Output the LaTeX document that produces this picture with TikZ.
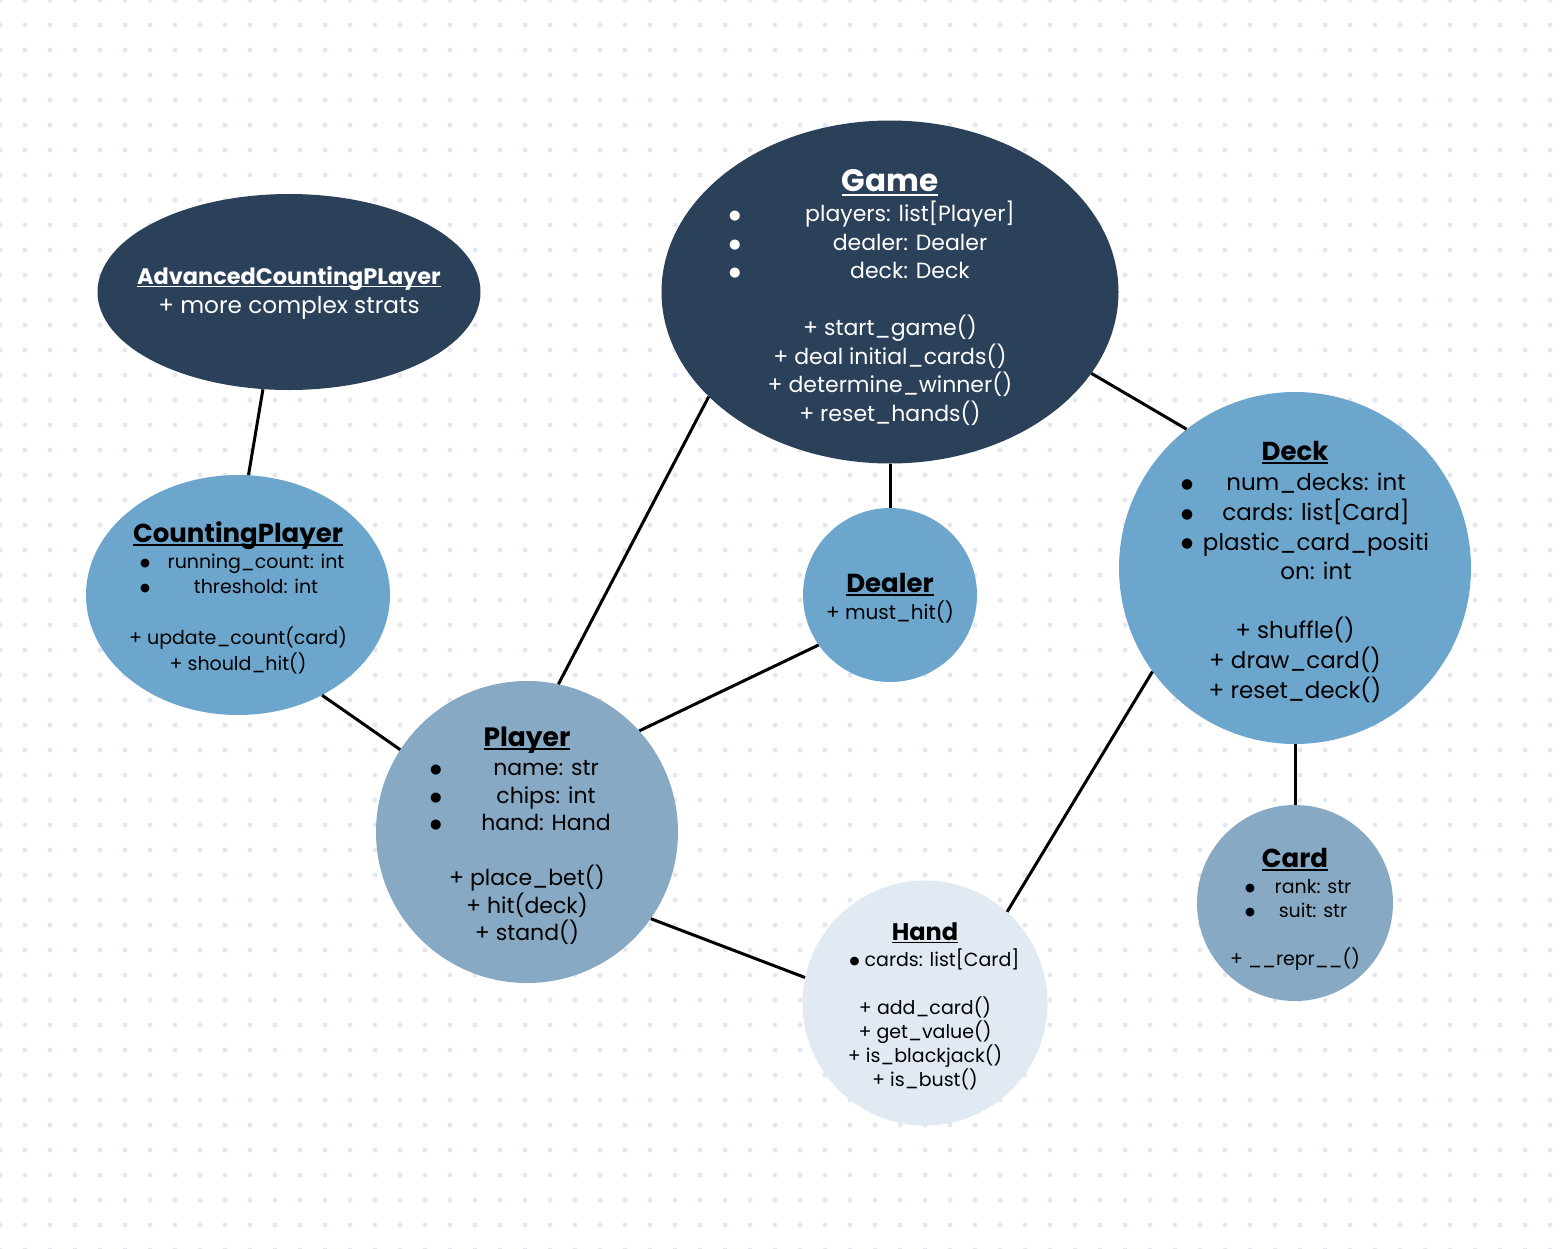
\documentclass[tikz,border=0pt]{standalone}
\usepackage{fontspec}
\setmainfont{Poppins}
\newfontfamily\dejavu[Scale=0.6]{DejaVu Sans}
\usetikzlibrary{shapes.geometric}

\definecolor{navy}{HTML}{2B4059}
\definecolor{skyblue}{HTML}{6CA6CD}
\definecolor{slateblue}{HTML}{87A9C4}
\definecolor{paleblue}{HTML}{E1E9F2}
\definecolor{dotgray}{HTML}{E4E8EE}

\newcommand\fs[2]{\fontsize{#1}{#2}\selectfont}
\newcommand\ttl[1]{\setbox0\hbox{#1}\rlap{\rule[-0.14em]{\wd0}{0.08em}}\box0}
\newcommand\dotb{\raisebox{0.1em}{\dejavu\char"25CF}}
\newcommand\bl[3]{\hspace*{#1pt}\makebox[#2pt]{\dotb\hfill#3\hfill\phantom{\dotb}}}

\begin{document}
\begin{tikzpicture}[x=1pt, y=-1pt,
    oval/.style={ellipse, inner sep=0pt},
    disc/.style={circle, inner sep=0pt},
    txt/.style={align=center, inner sep=0pt},
    link/.style={line width=3pt, black}]

    \useasboundingbox (0,0) rectangle (1568,1248);
    \fill[white] (0,0) rectangle (1568,1248);
    % dotted paper
    \foreach \i in {0,...,63}
        \foreach \j in {0,...,50}
            \fill[dotgray] (\i*25,\j*25) circle (2.5);

    \node[oval, fill=navy, minimum width=383, minimum height=196] (adv) at (289,292) {};
    \node[oval, fill=skyblue, minimum width=304, minimum height=240] (cnt) at (238,595) {};
    \node[oval, fill=navy, minimum width=457, minimum height=343] (game) at (890,292) {};
    \node[disc, fill=skyblue, minimum size=352] (deck) at (1295,568) {};
    \node[disc, fill=skyblue, minimum size=174] (dealer) at (890,595) {};
    \node[disc, fill=slateblue, minimum size=302] (player) at (527,832) {};
    \node[disc, fill=paleblue, minimum size=245] (hand) at (925,1003) {};
    \node[disc, fill=slateblue, minimum size=196] (card) at (1295,903) {};

    \node[txt, text=white, font=\fs{23.2}{29}] (adv-txt) at ([yshift=-1]adv) {%
        {\fs{22.4}{29}\bfseries\ttl{AdvancedCountingPLayer}}\\[0.5pt]
        + more complex strats};

    \node[txt, font=\fs{19}{25.5}] (cnt-txt) at ([yshift=-2.5]cnt) {%
        {\fs{26}{29}\bfseries\ttl{CountingPlayer}}\\[0.5pt]
        \bl{36}{232}{running\_count: int}\\
        \bl{36}{232}{threshold: int}\\[25.5pt]
        + update\_count(card)\\
        + should\_hit()};

    \node[txt, text=white, font=\fs{22}{28.5}] (game-txt) at ([yshift=-5.5]game) {%
        {\fs{31}{34}\bfseries\ttl{Game}}\\[1.5pt]
        \bl{40}{362}{players: list[Player]}\\
        \bl{40}{362}{dealer: Dealer}\\
        \bl{40}{362}{deck: Deck}\\[28.5pt]
        + start\_game()\\
        + deal initial\_cards()\\
        + determine\_winner()\\
        + reset\_hands()};

    \node[txt, font=\fs{23}{29.7}] (deck-txt) at ([yshift=-4]deck) {%
        {\fs{26}{30}\bfseries\ttl{Deck}}\\[0.3pt]
        \bl{42}{270}{num\_decks: int}\\
        \bl{42}{270}{cards: list[Card]}\\
        \bl{42}{270}{plastic\_card\_positi}\\
        \hspace*{42pt}on: int\\[29.5pt]
        + shuffle()\\
        + draw\_card()\\
        + reset\_deck()};

    \node[txt, font=\fs{20}{29}] (dealer-txt) at ([yshift=-3]dealer) {%
        {\fs{26}{29}\bfseries\ttl{Dealer}}\\[-2pt]
        + must\_hit()};

    \node[txt, font=\fs{22}{27.5}] (player-txt) at ([yshift=-4]player) {%
        {\fs{26.5}{30}\bfseries\ttl{Player}}\\[1.5pt]
        \bl{38}{232}{name: str}\\
        \bl{38}{232}{chips: int}\\
        \bl{38}{232}{hand: Hand}\\[27.5pt]
        + place\_bet()\\
        + hit(deck)\\
        + stand()};

    \node[txt, font=\fs{19}{24}] (hand-txt) at ([yshift=-3]hand) {%
        {\fs{24}{27}\bfseries\ttl{Hand}}\\[2pt]
        \hspace*{19pt}\dotb{} cards: list[Card]\\[24pt]
        + add\_card()\\
        + get\_value()\\
        + is\_blackjack()\\
        + is\_bust()};

    \node[txt, font=\fs{19}{24}] (card-txt) at ([yshift=-6.5]card) {%
        {\fs{26}{29}\bfseries\ttl{Card}}\\[2pt]
        \bl{36}{136}{rank: str}\\
        \bl{36}{136}{suit: str}\\[24pt]
        + \_\_repr\_\_()};

    \path[link]
        (adv.-105) edge (cnt.85)
        (cnt.-50) edge (player.147)
        (game.-150) edge (player.78)
        (game.south) edge (dealer.north)
        (game.-22) edge (deck.128)
        (dealer.-145) edge (player.42)
        (deck.-144) edge (hand.48)
        (player.-35) edge (hand.168)
        (deck.south) edge (card.north);
\end{tikzpicture}
\end{document}
